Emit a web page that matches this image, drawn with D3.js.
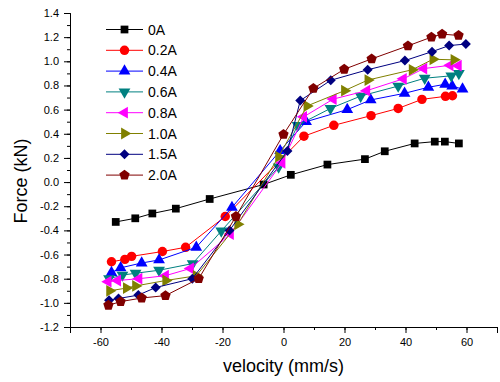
<!DOCTYPE html>
<html lang="en">
<head>
<meta charset="utf-8">
<title>Force vs velocity</title>
<script src="https://d3js.org/d3.v7.min.js"></script>
<style>
  body { margin: 0; background: #fff; }
  text { font-family: "Liberation Sans", Arial, sans-serif; }
  .axis path, .axis line { stroke: #000; }
  .line { fill: none; stroke-width: 1px; }
</style>
</head>
<body>
<script>
// series data: [velocity (mm/s), force (kN)]
const s0A = [[-55.0,-0.33],[-48.6,-0.30],[-43.0,-0.26],[-35.3,-0.22],[-24.2,-0.14],[-6.5,-0.02],[2.4,0.06],[14.4,0.145],[26.7,0.19],[33.2,0.255],[43.0,0.32],[49.6,0.335],[52.9,0.335],[57.5,0.32]];
const s02A = [[-56.4,-0.66],[-52.0,-0.64],[-49.8,-0.615],[-39.7,-0.575],[-32.1,-0.54],[-19.1,-0.285],[6.7,0.38],[16.5,0.47],[28.7,0.55],[37.6,0.61],[45.4,0.685],[53.1,0.71],[55.4,0.715]];
const s04A = [[-56.4,-0.75],[-53.4,-0.71],[-46.5,-0.67],[-40.8,-0.645],[-28.6,-0.54],[-16.9,-0.21],[-1.1,0.26],[7.4,0.50],[20.9,0.60],[28.6,0.68],[39.7,0.735],[47.5,0.785],[53.0,0.81],[55.3,0.795],[58.7,0.77]];
const s06A = [[-57.2,-0.80],[-52.8,-0.77],[-48.5,-0.755],[-40.8,-0.73],[-29.8,-0.675],[-20.4,-0.405],[-1.6,0.125],[4.6,0.47],[15.4,0.61],[25.3,0.712],[37.6,0.795],[46.3,0.86],[55.0,0.88],[57.5,0.90]];
const s08A = [[-57.5,-0.825],[-54.4,-0.815],[-47.4,-0.80],[-38.7,-0.775],[-30.5,-0.715],[-17.4,-0.43],[-0.5,0.16],[6.6,0.54],[16.3,0.687],[27.3,0.757],[39.3,0.855],[46.0,0.94],[54.6,0.967],[57.3,0.964]];
const s10A = [[-57.0,-0.90],[-51.5,-0.878],[-48.5,-0.86],[-38.6,-0.815],[-28.6,-0.776],[-15.0,-0.35],[-1.6,0.21],[7.7,0.63],[20.0,0.757],[27.7,0.845],[42.2,0.93],[49.0,1.017],[55.9,1.012]];
const s15A = [[-57.2,-0.978],[-54.1,-0.964],[-47.6,-0.936],[-41.9,-0.873],[-29.9,-0.80],[-17.7,-0.40],[1.3,0.258],[5.5,0.675],[15.5,0.843],[27.6,0.93],[39.8,1.006],[48.7,1.08],[54.3,1.13],[59.8,1.143]];
const s20A = [[-57.4,-1.02],[-53.4,-0.99],[-46.5,-0.96],[-38.7,-0.94],[-27.8,-0.80],[-15.6,-0.285],[0.0,0.395],[9.8,0.776],[19.9,0.934],[28.9,1.02],[40.8,1.128],[48.5,1.2],[52.0,1.225],[57.4,1.214]];

const seriesNames = ["0A", "0.2A", "0.4A", "0.6A", "0.8A", "1.0A", "1.5A", "2.0A"];
const seriesData = [s0A, s02A, s04A, s06A, s08A, s10A, s15A, s20A];
const seriesColors = ["#000000", "#ff0000", "#0000ff", "#008080", "#ff00ff", "#808000", "#000080", "#800000"];

const xTicks = [-60, -40, -20, 0, 20, 40, 60];
const yTicks = [-1.2, -1.0, -0.8, -0.6, -0.4, -0.2, 0.0, 0.2, 0.4, 0.6, 0.8, 1.0, 1.2, 1.4];

const w = 500, h = 382;
const plotLeft = 70, plotRight = 497, plotTop = 13, plotBottom = 327;

const xScale = d3.scaleLinear().domain([-70, 70]).range([plotLeft, plotRight]);
const yScale = d3.scaleLinear().domain([-1.2, 1.4]).range([plotBottom, plotTop]);

const svg = d3.select("body").append("svg")
  .attr("width", w)
  .attr("height", h);

// minor ticks
svg.append("g")
  .attr("class", "axis")
  .attr("transform", "translate(0," + plotBottom + ")")
  .call(d3.axisBottom(xScale).tickValues(d3.range(-70, 71, 10)).tickSize(3).tickFormat(""));
svg.append("g")
  .attr("class", "axis")
  .attr("transform", "translate(" + plotLeft + ",0)")
  .call(d3.axisLeft(yScale).tickValues(d3.range(-12, 15, 1).map(d => d / 10)).tickSize(3).tickFormat(""));

// major ticks
const bottomAxis = svg.append("g")
  .attr("class", "axis")
  .attr("transform", "translate(0," + plotBottom + ")")
  .call(d3.axisBottom(xScale).tickValues(xTicks).tickSize(6).tickPadding(5).tickFormat(d => String(d)));
const leftAxis = svg.append("g")
  .attr("class", "axis")
  .attr("transform", "translate(" + plotLeft + ",0)")
  .call(d3.axisLeft(yScale).tickValues(yTicks).tickSize(6).tickPadding(5).tickFormat(d => d.toFixed(1)));
[bottomAxis, leftAxis].forEach(g => g.selectAll("text")
  .attr("font-size", "11px")
  .attr("font-family", "Liberation Sans, Arial, sans-serif")
  .attr("fill", "#000"));

// marker shapes
const pentagon = {
  draw(ctx, size) {
    const r = Math.sqrt(size / 2.378);
    for (let i = 0; i < 5; i++) {
      const a = -Math.PI / 2 + i * 2 * Math.PI / 5;
      if (i === 0) ctx.moveTo(r * Math.cos(a), r * Math.sin(a));
      else ctx.lineTo(r * Math.cos(a), r * Math.sin(a));
    }
    ctx.closePath();
  }
};
const markers = [
  { type: d3.symbolSquare, size: 60, rot: 0 },
  { type: d3.symbolCircle, size: 70, rot: 0 },
  { type: d3.symbolTriangle, size: 60, rot: 0 },
  { type: d3.symbolTriangle, size: 60, rot: 180 },
  { type: d3.symbolTriangle, size: 60, rot: -90 },
  { type: d3.symbolTriangle, size: 60, rot: 90 },
  { type: d3.symbolSquare, size: 50, rot: 45 },
  { type: pentagon, size: 70, rot: 0 }
];

const line = d3.line()
  .x(d => xScale(d[0]))
  .y(d => yScale(d[1]));

seriesData.forEach((data, i) => {
  svg.append("path")
    .attr("class", "line")
    .attr("d", line(data))
    .attr("stroke", seriesColors[i]);
  const m = markers[i];
  svg.append("g").selectAll("path")
    .data(data)
    .join("path")
    .attr("d", d3.symbol().type(m.type).size(m.size))
    .attr("transform", d => "translate(" + xScale(d[0]) + "," + yScale(d[1]) + ") rotate(" + m.rot + ")")
    .attr("fill", seriesColors[i]);
});

// legend
const legend = svg.append("g");
seriesNames.forEach((name, i) => {
  const ly = 29.5 + i * 20.8;
  legend.append("line")
    .attr("x1", 106).attr("x2", 143)
    .attr("y1", ly).attr("y2", ly)
    .attr("stroke", seriesColors[i]);
  legend.append("path")
    .attr("d", d3.symbol().type(markers[i].type).size(markers[i].size))
    .attr("transform", "translate(124.5," + ly + ") rotate(" + markers[i].rot + ")")
    .attr("fill", seriesColors[i]);
  legend.append("text")
    .attr("x", 148)
    .attr("y", ly + 5)
    .attr("font-size", "14px")
    .attr("fill", "#000")
    .text(name);
});

// axis titles
svg.append("text")
  .attr("x", (plotLeft + plotRight) / 2)
  .attr("y", 372)
  .attr("text-anchor", "middle")
  .attr("font-size", "18px")
  .attr("fill", "#000")
  .text("velocity (mm/s)");

svg.append("text")
  .attr("transform", "translate(27,181) rotate(-90)")
  .attr("text-anchor", "middle")
  .attr("font-size", "18px")
  .attr("fill", "#000")
  .text("Force (kN)");
</script>
</body>
</html>
